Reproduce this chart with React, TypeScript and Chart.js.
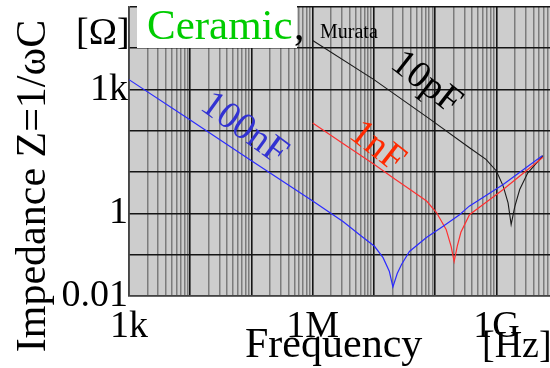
import { useEffect, useRef } from "react";
import { Chart, registerables } from "chart.js";

Chart.register(...registerables);

// ---- data (Hz, Ohm) ----
const freq100n = [1e3, 1e4, 1e5, 1e6, 3.16e6, 5.9e6, 1.02e7, 1.41e7, 1.78e7, 2.04e7, 2.4e7, 2.82e7, 3.8e7, 7.2e7, 1.35e8, 2.5e8, 3.6e8, 1.29e9, 5.6e9];
const z100n = [1740, 182, 19, 2.0, 0.63, 0.3, 0.16, 0.085, 0.04, 0.0166, 0.035, 0.058, 0.12, 0.26, 0.49, 0.93, 1.5, 5.0, 25];

const freq1n = [1e6, 3.16e6, 1e7, 2.19e7, 3.63e7, 7.24e7, 1.05e8, 1.51e8, 1.82e8, 2.04e8, 2.29e8, 2.63e8, 3.63e8, 1.29e9, 5.75e9];
const z1n = [155, 49, 15.5, 6.8, 4.1, 2.0, 1.05, 0.41, 0.16, 0.069, 0.16, 0.35, 0.93, 3.8, 23];

const freq10p = [1e6, 1e7, 8.1e7, 3.63e8, 6.76e8, 1e9, 1.29e9, 1.55e9, 1.74e9, 2.0e9, 2.4e9, 3.24e9, 5.75e9];
const z10p = [15500, 1740, 195, 39, 20.4, 10.7, 4.6, 1.8, 0.54, 1.48, 3.8, 9.5, 25];

const xMin = 1e3;
const xMax = 7.5e9;
const yMin = 0.01;
const yMax = 1e5;

const xTickLabels: [number, string][] = [[3, "1k"], [6, "1M"], [9, "1G"]];
const yTickLabels: [number, string][] = [[-2, "0.01"], [0, "1"], [3, "1k"]];

const FONT = "'Liberation Serif', 'Times New Roman', serif";

const isDecade = (v: number) => Math.abs(Math.log10(v) - Math.round(Math.log10(v))) < 1e-6;
const labelFor = (list: [number, string][], v: number) => {
  if (!isDecade(v)) return "";
  const e = Math.round(Math.log10(v));
  const f = list.find((p) => p[0] === e);
  return f ? f[1] : "";
};

const toPts = (xs: number[], ys: number[]) => xs.map((x, i) => ({ x, y: ys[i] }));

const bgPlugin = {
  id: "bgPlugin",
  beforeDraw(chart: any) {
    const { ctx, chartArea: a } = chart;
    ctx.save();
    ctx.fillStyle = "#cdcdcd";
    ctx.fillRect(a.left, a.top, a.right - a.left, a.bottom - a.top);
    ctx.restore();
  },
};

const textPlugin = {
  id: "textPlugin",
  afterDraw(chart: any) {
    const ctx = chart.ctx as CanvasRenderingContext2D;
    ctx.save();
    // white box behind legend text
    ctx.fillStyle = "#ffffff";
    ctx.fillRect(137, 0, 160, 48);

    ctx.textBaseline = "alphabetic";
    ctx.textAlign = "left";
    ctx.fillStyle = "#000";
    ctx.font = `38px ${FONT}`;
    ctx.fillText("[Ω]", 76, 44);

    ctx.fillStyle = "#00cc00";
    ctx.font = `43px ${FONT}`;
    ctx.fillText("Ceramic", 147, 39);
    ctx.fillStyle = "#000";
    ctx.font = `42px ${FONT}`;
    ctx.fillText(",", 294, 39);
    ctx.font = `20px ${FONT}`;
    ctx.fillText("Murata", 320, 38);

    // axis titles
    ctx.font = `42px ${FONT}`;
    ctx.fillText("Frequency", 245, 357);
    ctx.font = `38px ${FONT}`;
    ctx.fillText("[Hz]", 482, 357);

    ctx.save();
    ctx.translate(45, 186);
    ctx.rotate(-Math.PI / 2);
    ctx.textAlign = "center";
    ctx.font = `42px ${FONT}`;
    ctx.fillText("Impedance Z=1/ωC", 0, 0);
    ctx.restore();

    // curve labels
    const lab = (t: string, x: number, y: number, ang: number, col: string) => {
      ctx.save();
      ctx.translate(x, y);
      ctx.rotate((ang * Math.PI) / 180);
      ctx.textAlign = "center";
      ctx.textBaseline = "middle";
      ctx.fillStyle = col;
      ctx.font = `38px ${FONT}`;
      ctx.fillText(t, 0, 0);
      ctx.restore();
    };
    lab("100nF", 244, 129, 36, "#3232d2");
    lab("1nF", 377, 147, 38, "#ff2a00");
    lab("10pF", 426, 83, 38, "#000000");
    ctx.restore();
  },
};

export default function App() {
  const ref = useRef<HTMLCanvasElement | null>(null);

  useEffect(() => {
    document.body.style.margin = "0";
    const canvas = ref.current;
    if (!canvas) return;

    const xTicks: number[] = [];
    for (let d = 3; d <= 9; d++) {
      for (let m = 1; m <= 9; m++) {
        const v = m * Math.pow(10, d);
        if (v <= xMax) xTicks.push(v);
      }
    }
    const yTicks: number[] = [];
    for (let d = -2; d <= 5; d++) yTicks.push(Math.pow(10, d));

    const gridColor = (ctx: any) => (ctx.tick && isDecade(ctx.tick.value) ? "#151515" : "#7c7c7c");
    const gridWidth = (ctx: any) => (ctx.tick && isDecade(ctx.tick.value) ? 1.6 : 1.5);

    const chart = new Chart(canvas, {
      type: "line",
      data: {
        datasets: [
          { label: "100nF", data: toPts(freq100n, z100n), borderColor: "#2b2bff", borderWidth: 1.2, pointRadius: 0, tension: 0 },
          { label: "1nF", data: toPts(freq1n, z1n), borderColor: "#ff3030", borderWidth: 1.2, pointRadius: 0, tension: 0 },
          { label: "10pF", data: toPts(freq10p, z10p), borderColor: "#1a1a1a", borderWidth: 1.1, pointRadius: 0, tension: 0 },
        ],
      },
      options: {
        responsive: false,
        animation: false,
        devicePixelRatio: 1,
        layout: { padding: { top: 7, left: 0, right: 0, bottom: 0 }, autoPadding: false },
        plugins: { legend: { display: false }, tooltip: { enabled: false }, title: { display: false } },
        scales: {
          x: {
            type: "logarithmic",
            min: xMin,
            max: xMax,
            afterBuildTicks: (s: any) => {
              s.ticks = xTicks.map((v) => ({ value: v }));
            },
            afterFit: (s: any) => {
              s.height = 72;
              s.paddingLeft = 0;
              s.paddingRight = 0;
            },
            ticks: {
              autoSkip: false,
              maxRotation: 0,
              padding: 8,
              color: "#000",
              font: { family: FONT, size: 38 },
              callback: (v: any) => labelFor(xTickLabels, Number(v)),
            },
            grid: { color: gridColor, lineWidth: gridWidth, drawTicks: false },
            border: { display: true, color: "#444", width: 1.5 },
          },
          y: {
            type: "logarithmic",
            min: yMin,
            max: yMax,
            afterBuildTicks: (s: any) => {
              s.ticks = yTicks.map((v) => ({ value: v }));
            },
            afterFit: (s: any) => {
              s.width = 129;
              s.paddingTop = 0;
              s.paddingBottom = 0;
            },
            ticks: {
              autoSkip: false,
              padding: 1,
              color: "#000",
              font: { family: FONT, size: 38 },
              callback: (v: any) => labelFor(yTickLabels, Number(v)),
            },
            grid: { color: () => "#151515", lineWidth: 1.6, drawTicks: false },
            border: { display: true, color: "#444", width: 1.5 },
          },
        },
      },
      plugins: [bgPlugin, textPlugin],
    } as any);

    return () => chart.destroy();
  }, []);

  return (
    <div style={{ width: 550, height: 368 }}>
      <canvas ref={ref} width={550} height={368} style={{ display: "block", width: 550, height: 368 }} />
    </div>
  );
}
